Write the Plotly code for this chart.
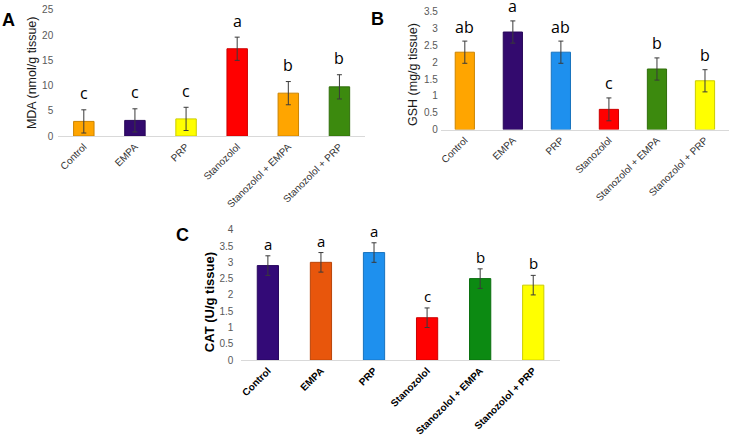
import plotly.graph_objects as go

categories = ["Control", "EMPA", "PRP", "Stanozolol", "Stanozolol + EMPA", "Stanozolol + PRP"]

mda_mean = [2.9, 3.1, 3.4, 17.3, 8.5, 9.75]
mda_err = [2.3, 2.3, 2.3, 2.3, 2.3, 2.4]
mda_letters = ["c", "c", "c", "a", "b", "b"]
mda_colors = ["#FFA500", "#330A6E", "#FFFF00", "#FF0000", "#FFA500", "#3C8A0E"]

gsh_mean = [2.3, 2.9, 2.3, 0.6, 1.8, 1.45]
gsh_err = [0.33, 0.33, 0.33, 0.34, 0.33, 0.33]
gsh_letters = ["ab", "a", "ab", "c", "b", "b"]
gsh_colors = ["#FFA500", "#330A6E", "#1E90EE", "#FF0000", "#3C8A0E", "#FFFF00"]

cat_mean = [2.9, 3.0, 3.3, 1.3, 2.5, 2.3]
cat_err = [0.3, 0.3, 0.3, 0.3, 0.3, 0.3]
cat_letters = ["a", "a", "a", "c", "b", "b"]
cat_colors = ["#330A77", "#E8560C", "#1E90EE", "#FF0000", "#0C8A12", "#FFFF00"]

W, H = 730, 441

def darker(hexc, f=0.8):
    h = hexc.lstrip("#")
    r, g, b = int(h[0:2], 16), int(h[2:4], 16), int(h[4:6], 16)
    return "#%02x%02x%02x" % (int(r * f), int(g * f), int(b * f))

fig = go.Figure()

panels = [
    dict(mean=mda_mean, err=mda_err, letters=mda_letters, colors=mda_colors,
         xd=[56.4 / W, 364 / W], yd=[(H - 133.7) / H, (H - 4) / H], yr=[0, 25], dt=5,
         title="MDA (nmol/g tissue)", tx=30, ty=68, bold=False, lab="A", lx=7, ly=14,
         stand=4, lshift=3.5, lsize=16),
    dict(mean=gsh_mean, err=gsh_err, letters=gsh_letters, colors=gsh_colors,
         xd=[440 / W, 729 / W], yd=[(H - 127) / H, (H - 6) / H], yr=[0, 3.5], dt=0.5,
         title="GSH (mg/g tissue)", tx=412, ty=70, bold=False, lab="B", lx=377, ly=13,
         stand=2, lshift=1.5, lsize=16),
    dict(mean=cat_mean, err=cat_err, letters=cat_letters, colors=cat_colors,
         xd=[240 / W, 559.3 / W], yd=[(H - 364) / H, (H - 230) / H], yr=[0, 4], dt=0.5,
         title="CAT (U/g tissue)", tx=208, ty=304, bold=True, lab="C", lx=181, ly=235,
         stand=7, lshift=0, lsize=15),
]

annotations = []
for i, p in enumerate(panels):
    n = "" if i == 0 else str(i + 1)
    xa, ya = "x" + n, "y" + n
    fig.add_trace(go.Bar(
        x=categories, y=p["mean"], xaxis=xa, yaxis=ya, width=0.4,
        marker=dict(color=p["colors"], line=dict(color=[darker(c) for c in p["colors"]], width=1)),
        error_y=dict(type="data", array=p["err"], visible=True, color="#3a3a3a", thickness=1, width=2.5),
        showlegend=False, hoverinfo="skip",
    ))
    tickfont_x = dict(family="Liberation Sans", size=10,
                      color="#000000" if p["bold"] else "#333333")
    if p["bold"]:
        ticktext = ["<b>%s</b>" % c for c in categories]
    else:
        ticktext = categories
    fig.update_layout(**{
        "xaxis" + n: dict(domain=p["xd"], anchor=ya, showline=True, linecolor="#d9d9d9", linewidth=1,
                           showgrid=False, zeroline=False, ticks="", tickangle=-45,
                           tickfont=tickfont_x, tickmode="array", tickvals=categories, ticktext=ticktext,
                           range=[-0.5, 5.5]),
        "yaxis" + n: dict(domain=p["yd"], anchor=xa, range=p["yr"], dtick=p["dt"], tick0=0,
                           showline=False, showgrid=False, zeroline=False, ticks="",
                           ticklabelstandoff=p["stand"],
                           tickfont=dict(family="Liberation Sans", size=10, color="#595959")),
    })
    for c, m, e, l in zip(categories, p["mean"], p["err"], p["letters"]):
        annotations.append(dict(x=c, y=m + e, xref=xa, yref=ya, text=l, showarrow=False,
                                yanchor="bottom", yshift=p["lshift"],
                                font=dict(family="Open Sans", size=p["lsize"], color="#000000")))
    ttl = "<b>%s</b>" % p["title"] if p["bold"] else p["title"]
    annotations.append(dict(x=p["tx"] / W, y=(H - p["ty"]) / H, xref="paper", yref="paper",
                            text=ttl, textangle=-90, showarrow=False, xanchor="center", yanchor="middle",
                            font=dict(family="Liberation Sans", size=13 if p["bold"] else 12.5,
                                      color="#000000" if p["bold"] else "#1a1a1a")))
    annotations.append(dict(x=p["lx"] / W, y=(H - p["ly"]) / H, xref="paper", yref="paper",
                            text="<b>%s</b>" % p["lab"], showarrow=False, xanchor="center", yanchor="middle",
                            font=dict(family="Liberation Sans", size=18, color="#000000")))

fig.update_layout(width=W, height=H, margin=dict(l=0, r=0, t=0, b=0),
                  paper_bgcolor="white", plot_bgcolor="white", annotations=annotations,
                  bargap=0.6)

fig.write_html("out.html")
